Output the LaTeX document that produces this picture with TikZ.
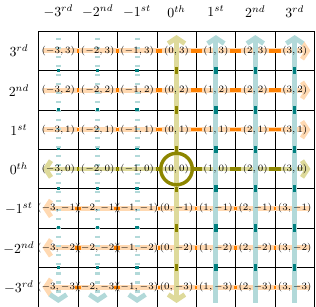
\documentclass[tikz,border=0pt]{standalone}
\usepackage{amsmath}
\usepackage{xcolor}
\usepackage{tikz}
\usetikzlibrary{backgrounds, arrows.meta}

\begin{document}
\begin{tikzpicture}[
    cell/.style={minimum height=0.8cm, inner sep=1pt, font=\scriptsize},
    origin/.style={circle, draw=olive, line width=2.5pt,
                   minimum size=0.8cm, inner sep=1pt, font=\scriptsize},
    light/.style={line width=3.5pt, shorten <=-0.4cm, shorten >=-0.4cm,
                  >={Straight Barb[length=4pt, width=12pt]}},
    dark/.style={line width=2.5pt},
    dots/.style={dash pattern=on 2pt off 4.5pt, dash phase=4.6pt}
  ]
  \useasboundingbox (-4.48,-3.5) rectangle (3.54,4.29);
  % Cells
  \foreach \i in {-3,...,3}
    \foreach \j in {-3,...,3} {
      \ifnum\i=0 \ifnum\j=0 \def\kind{origin}\else\def\kind{cell}\fi
      \else\def\kind{cell}\fi
      \node[\kind] (c\i\j) at (\i,\j) {$(\i,\j)$};
    }
  % Headers
  \foreach \i/\s in {-3/rd,-2/nd,-1/st,0/th,1/st,2/nd,3/rd} {
    \node (col\i) at (\i,4) {$\i^{\s}$};
    \node (row\i) at (-4,\i) {$\i^{\s}$};
  }
  \begin{scope}[on background layer]
    % Grid
    \draw[shift={(0.5,0.5)}] (-4,-4) grid (3,3);
    % Rows
    \foreach \j in {1,2,3}
      \draw[light, orange!30, ->] (c-3\j.center) -- (c3\j.center);
    \foreach \j in {-1,-2,-3}
      \draw[light, orange!30, <-] (c-3\j.center) -- (c3\j.center);
    \draw[light, olive!30, <->] (c-30.center) -- (c30.center);
    % Columns
    \foreach \i in {1,2,3}
      \draw[light, teal!30, ->] (c\i-3.center) -- (c\i3.center);
    \foreach \i in {-1,-2,-3}
      \draw[light, dots, teal!30, ->] (c\i3.center) -- (c\i-3.center);
    \draw[light, olive!30, <->] (c0-3.center) -- (c03.center);
    % Steps between neighbours
    \foreach \a [evaluate=\a as \b using int(\a+1)] in {-3,...,2} {
      \foreach \j in {1,2,3,-1,-2,-3}
        \draw[dark, orange] (c\a\j) -- (c\b\j);
      \draw[dark, olive] (c\a0) -- (c\b0);
      \draw[dark, olive] (c0\a) -- (c0\b);
      \foreach \i in {1,2,3}
        \draw[dark, teal] (c\i\a) -- (c\i\b);
      \foreach \i in {-1,-2,-3}
        \draw[dark, dots, teal] (c\i\a) -- (c\i\b);
    }
  \end{scope}
\end{tikzpicture}
\end{document}
